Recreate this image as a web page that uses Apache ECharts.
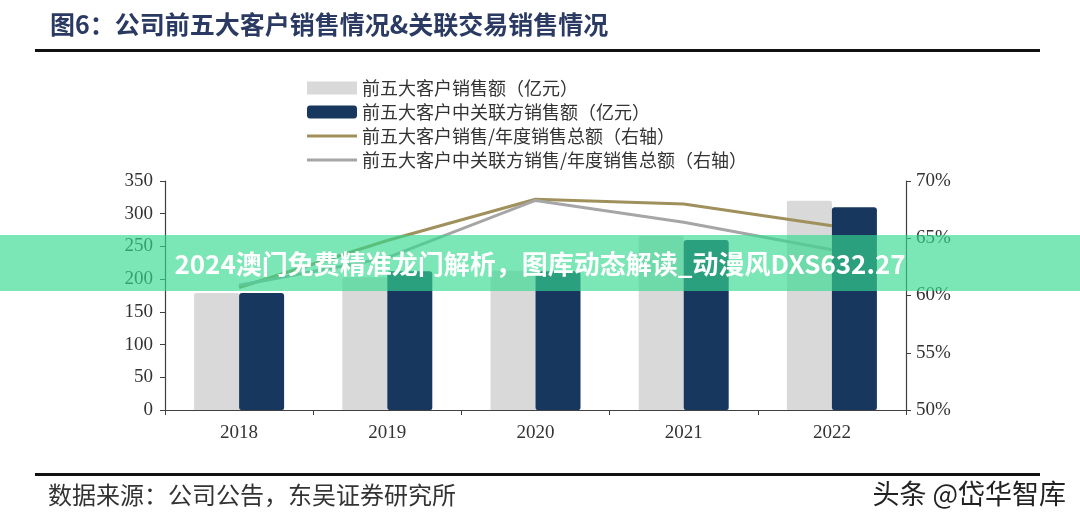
<!DOCTYPE html>
<html>
<head>
<meta charset="utf-8">
<script src="https://cdn.jsdelivr.net/npm/echarts@6/dist/echarts.min.js"></script>
<style>
  html, body { margin: 0; padding: 0; background: #fff; }
  #main { width: 1080px; height: 527px; }
</style>
</head>
<body>
<div id="main"></div>
<script>
// data
var years = ['2018', '2019', '2020', '2021', '2022'];
var top5Sales = [179, 203, 213, 266, 320];        // 前五大客户销售额（亿元）
var relatedSales = [179, 212, 212, 260, 310];     // 前五大客户中关联方销售额（亿元）
var top5Ratio = [60.7, 64.8, 68.4, 68.0, 66.1];   // 前五大客户销售/年度销售总额
var relatedRatio = [60.9, 63.3, 68.3, 66.4, 64.0];// 前五大客户中关联方销售/年度销售总额

var names = [
    '前五大客户销售额（亿元）',
    '前五大客户中关联方销售额（亿元）',
    '前五大客户销售/年度销售总额（右轴）',
    '前五大客户中关联方销售/年度销售总额（右轴）'
];

var serif = '"Liberation Serif", "Noto Sans CJK SC", serif';
var cjk = '"Noto Sans CJK SC", sans-serif';
// thin line icon, padded to a 50x13 box so it is not stretched
var lineIcon = 'path://M0,0H50V0.01H0Z M0,5H50V8H0Z M0,12.99H50V13H0Z';

var chartDom = document.getElementById('main');
var myChart = echarts.init(chartDom);
var option;

option = {
    animation: false,
    backgroundColor: '#fff',
    grid: {
        left: 165,
        right: 174,
        top: 181,
        bottom: 117
    },
    legend: {
        orient: 'vertical',
        left: 302,
        top: 74,
        itemWidth: 50,
        itemHeight: 13,
        itemGap: 6,
        textStyle: {
            fontFamily: cjk,
            fontSize: 18,
            color: '#333'
        },
        data: [
            { name: names[0], icon: 'rect' },
            { name: names[1], icon: 'roundRect' },
            { name: names[2], icon: lineIcon },
            { name: names[3], icon: lineIcon }
        ]
    },
    xAxis: {
        type: 'category',
        data: years,
        boundaryGap: true,
        axisLine: { lineStyle: { color: '#404040', width: 1.2 } },
        axisTick: { show: true, length: 5, inside: false, lineStyle: { color: '#404040' } },
        axisLabel: {
            fontFamily: serif,
            fontSize: 19,
            color: '#333',
            margin: 14
        }
    },
    yAxis: [
        {
            type: 'value',
            min: 0,
            max: 350,
            interval: 50,
            splitLine: { show: false },
            axisLine: { show: true, lineStyle: { color: '#404040', width: 1.2 } },
            axisTick: { show: true, length: 5, lineStyle: { color: '#404040' } },
            axisLabel: {
                fontFamily: serif,
                fontSize: 19,
                color: '#333',
                margin: 12
            }
        },
        {
            type: 'value',
            min: 50,
            max: 70,
            interval: 5,
            splitLine: { show: false },
            axisLine: { show: true, lineStyle: { color: '#404040', width: 1.2 } },
            axisTick: { show: true, length: 5, lineStyle: { color: '#404040' } },
            axisLabel: {
                fontFamily: serif,
                fontSize: 19,
                color: '#333',
                margin: 10,
                formatter: '{value}%'
            }
        }
    ],
    series: [
        {
            name: names[0],
            type: 'bar',
            data: top5Sales,
            barWidth: 45,
            barGap: '0%',
            itemStyle: { color: '#d9d9d9', borderRadius: [2, 2, 0, 0] }
        },
        {
            name: names[1],
            type: 'bar',
            data: relatedSales,
            barWidth: 45,
            itemStyle: { color: '#17375e', borderRadius: [3, 3, 2, 2] }
        },
        {
            name: names[2],
            type: 'line',
            yAxisIndex: 1,
            data: top5Ratio,
            symbol: 'none',
            lineStyle: { color: '#9f905c', width: 3 },
            itemStyle: { color: '#9f905c' }
        },
        {
            name: names[3],
            type: 'line',
            yAxisIndex: 1,
            data: relatedRatio,
            symbol: 'none',
            lineStyle: { color: '#a6a6a6', width: 3 },
            itemStyle: { color: '#a6a6a6' }
        }
    ],
    graphic: [
        {
            type: 'text',
            left: 50,
            top: 12,
            style: {
                text: '图6：公司前五大客户销售情况&关联交易销售情况',
                font: 'bold 25px "Noto Sans CJK SC", sans-serif',
                fill: '#2a3a62'
            }
        },
        {
            type: 'rect',
            shape: { x: 35, y: 49, width: 1005, height: 3 },
            style: { fill: '#111' }
        },
        {
            type: 'rect',
            shape: { x: 35, y: 473, width: 1005, height: 3 },
            style: { fill: '#111' }
        },
        {
            type: 'text',
            left: 48,
            top: 483,
            style: {
                text: '数据来源：公司公告，东吴证券研究所',
                font: '24px "Noto Sans CJK SC", sans-serif',
                fill: '#333'
            }
        },
        {
            type: 'text',
            right: 14,
            top: 480,
            style: {
                text: '头条 @岱华智库',
                font: '27px "Noto Sans CJK SC", sans-serif',
                fill: '#222'
            }
        },
        // green banner laid over the chart
        {
            type: 'rect',
            z: 100,
            shape: { x: 0, y: 235, width: 1080, height: 56 },
            style: { fill: 'rgba(52,216,143,0.65)' }
        },
        {
            type: 'text',
            z: 101,
            x: 540,
            y: 264,
            style: {
                text: '2024澳门免费精准龙门解析，图库动态解读_动漫风DXS632.27',
                font: 'bold 26px "Noto Sans CJK SC", sans-serif',
                fill: '#fff',
                align: 'center',
                verticalAlign: 'middle'
            }
        }
    ]
};

option && myChart.setOption(option);
</script>
</body>
</html>
